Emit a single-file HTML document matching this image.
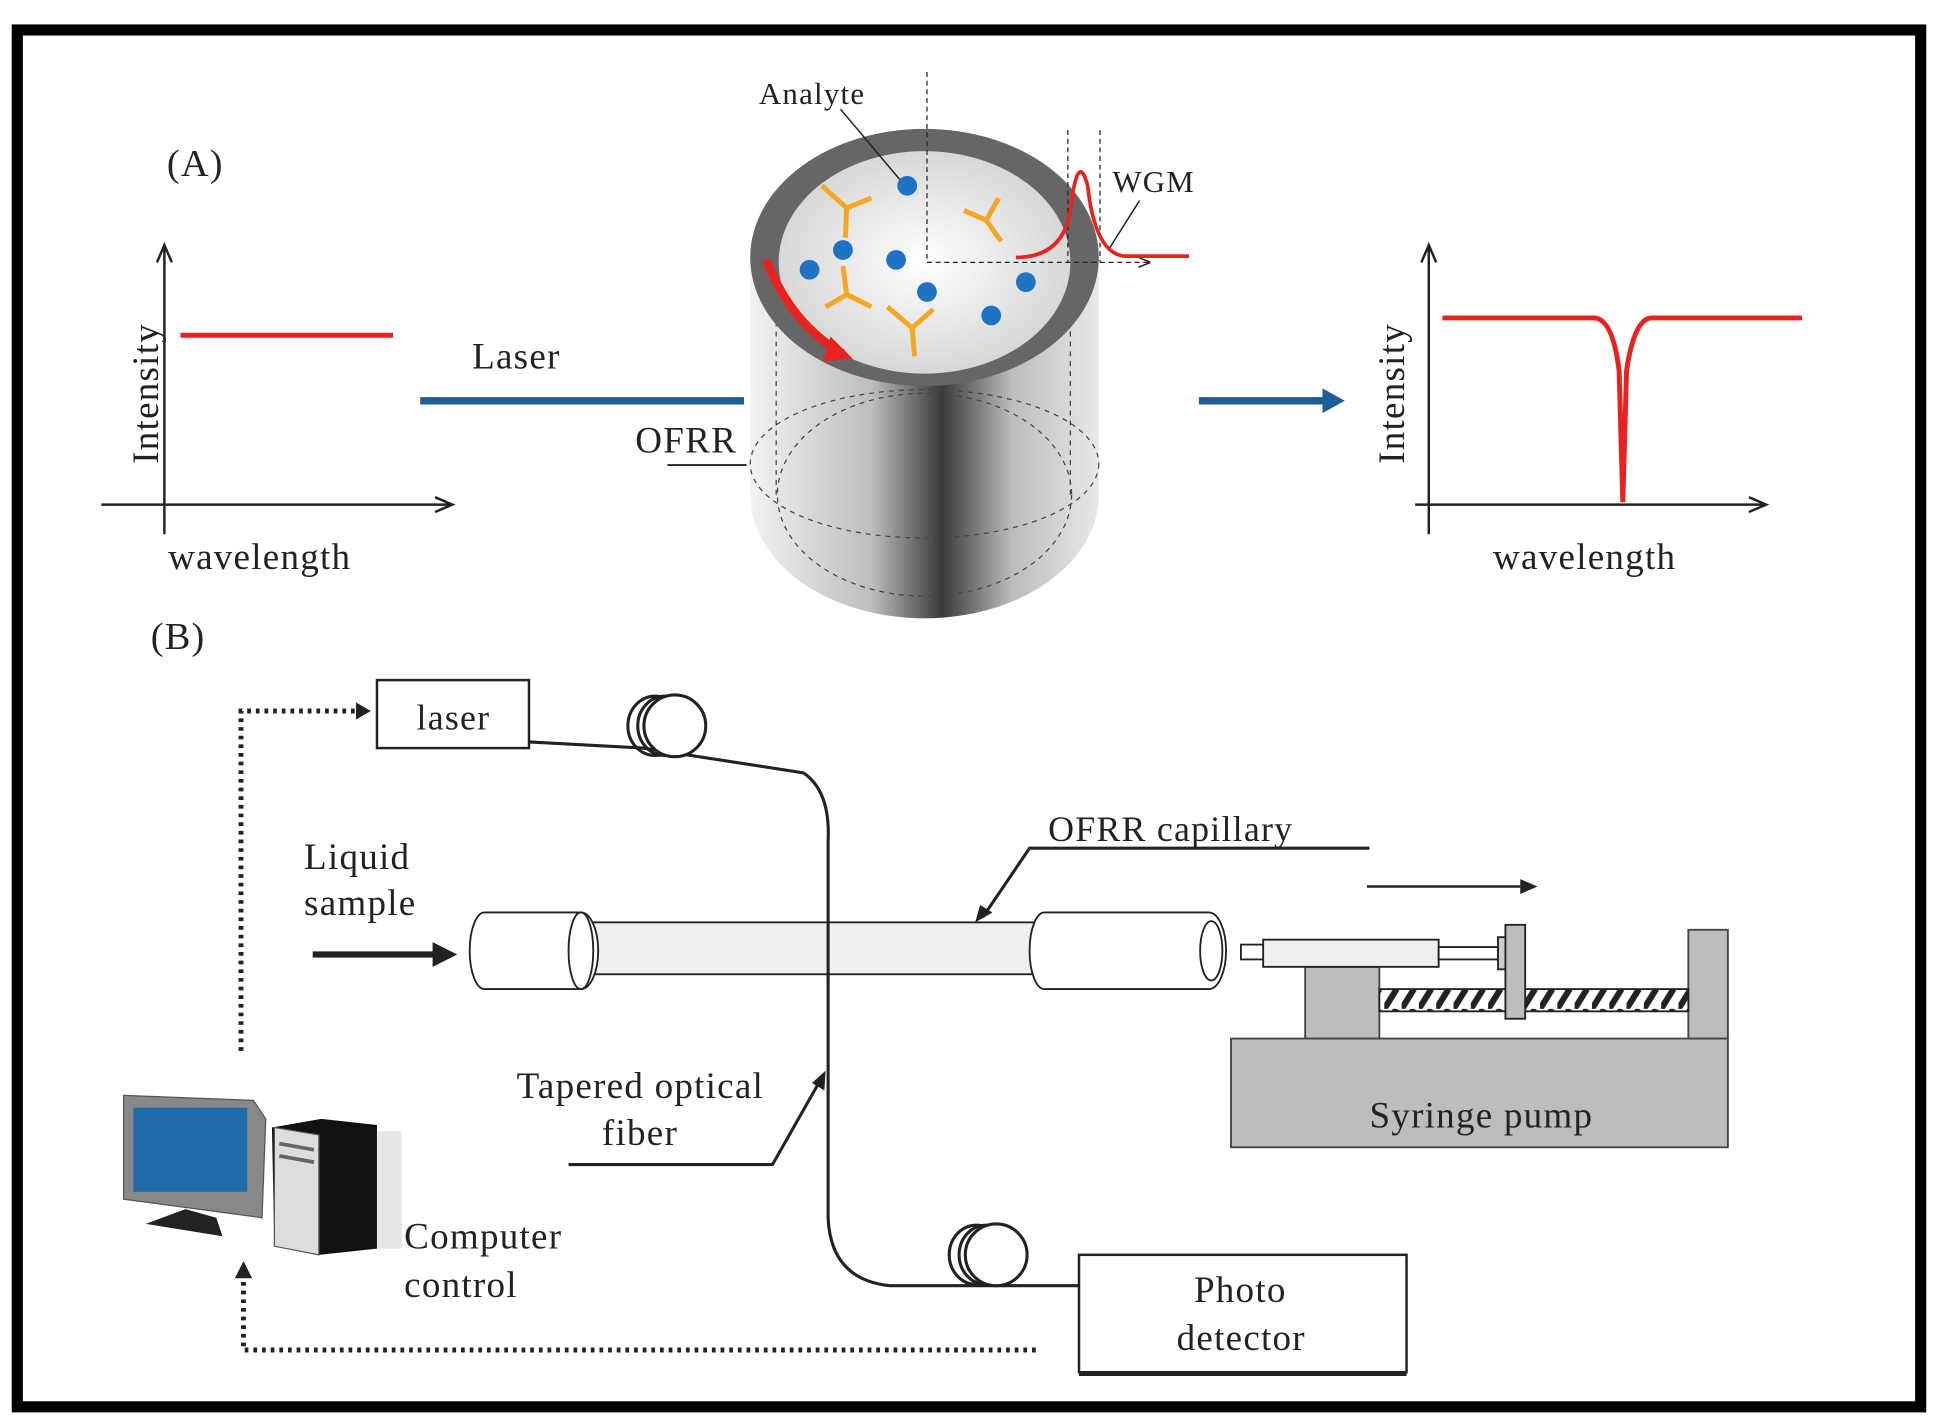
<!DOCTYPE html>
<html><head><meta charset="utf-8"><style>
html,body{margin:0;padding:0;background:#fff;}
svg{display:block;}
text{font-family:"Liberation Serif",serif;fill:#222;letter-spacing:1px;}
</style></head><body>
<svg width="1938" height="1422" viewBox="0 0 1568 1150" xmlns="http://www.w3.org/2000/svg">
<defs>
<linearGradient id="cyl" x1="0" x2="1" y1="0" y2="0">
<stop offset="0" stop-color="#f2f2f2"/><stop offset="0.35" stop-color="#bdbdbd"/><stop offset="0.55" stop-color="#3a3a3a"/><stop offset="0.75" stop-color="#bcbcbc"/><stop offset="1" stop-color="#e8e8e8"/>
</linearGradient>
<radialGradient id="inner" cx="0.5" cy="0.5" r="0.6"><stop offset="0" stop-color="#fff"/><stop offset="1" stop-color="#cfcfcf"/></radialGradient>
<marker id="ah" markerWidth="10" markerHeight="10" refX="9" refY="5" orient="auto"><path d="M0,1 L10,5 L0,9" fill="none" stroke="#222" stroke-width="1.2"/></marker>
<pattern id="hatch" width="14" height="16" patternUnits="userSpaceOnUse"><rect width="14" height="16" fill="#fff"/><path d="M0,16 L10,0" stroke="#222" stroke-width="5"/></pattern>
</defs>
<rect x="0" y="0" width="1568" height="1150" fill="#fff"/>
<rect x="14" y="24" width="1540" height="1114" fill="none" stroke="#000" stroke-width="9"/>

<!-- (A) left graph -->
<text x="135" y="142" font-size="31">(A)</text>
<line x1="133" y1="198" x2="133" y2="432" stroke="#222" stroke-width="2"/>
<path d="M127,212 L133,198 L139,212" fill="none" stroke="#222" stroke-width="2"/>
<line x1="82" y1="408" x2="365" y2="408" stroke="#222" stroke-width="2"/>
<path d="M352,402 L366,408 L352,414" fill="none" stroke="#222" stroke-width="2"/>
<line x1="146" y1="271" x2="318" y2="271" stroke="#e8231f" stroke-width="4"/>
<text x="128" y="375" font-size="30" transform="rotate(-90 128 375)">Intensity</text>
<text x="136" y="460" font-size="30">wavelength</text>

<text x="382" y="298" font-size="30">Laser</text>
<line x1="340" y1="324" x2="602" y2="324" stroke="#1d5e96" stroke-width="6"/>
<text x="514" y="366" font-size="30">OFRR</text>
<line x1="540" y1="376" x2="604" y2="376" stroke="#222" stroke-width="1.5"/>

<!-- cylinder -->
<path d="M607,208 L607,400 A141,100 0 0 0 889,400 L889,208 Z" fill="url(#cyl)"/>
<line x1="628" y1="260" x2="628" y2="400" stroke="#444" stroke-dasharray="4,4"/>
<line x1="866" y1="260" x2="866" y2="400" stroke="#444" stroke-dasharray="4,4"/>
<ellipse cx="748" cy="400" rx="119" ry="82" fill="none" stroke="#444" stroke-dasharray="4,4"/>
<ellipse cx="748" cy="375" rx="141" ry="60" fill="none" stroke="#444" stroke-dasharray="4,4"/>
<ellipse cx="748" cy="208" rx="141" ry="104" fill="#666"/>
<ellipse cx="748" cy="212" rx="118" ry="90" fill="url(#inner)"/>
<path d="M620,210 Q640,262 682,286" fill="none" stroke="#e8231f" stroke-width="7"/>
<path d="M672,272 L690,290 L666,292 Z" fill="#e8231f"/>
<line x1="750" y1="58" x2="750" y2="212" stroke="#222" stroke-dasharray="4,3"/>
<line x1="750" y1="212" x2="930" y2="212" stroke="#222" stroke-dasharray="4,3" marker-end="url(#ah)"/>
<line x1="864" y1="105" x2="864" y2="212" stroke="#222" stroke-dasharray="4,3"/>
<line x1="890" y1="105" x2="890" y2="212" stroke="#222" stroke-dasharray="4,3"/>
<path d="M822,208 Q860,208 866,170 Q872,120 880,150 Q886,205 910,207 L962,207" fill="none" stroke="#e8231f" stroke-width="3"/>
<text x="900" y="155" font-size="25">WGM</text>
<line x1="922" y1="162" x2="898" y2="200" stroke="#222" stroke-width="1.2"/>
<text x="614" y="84" font-size="25">Analyte</text>
<line x1="680" y1="88" x2="728" y2="145" stroke="#222" stroke-width="1.2"/>
<g fill="#1f73c4">
<circle cx="734" cy="150" r="8"/><circle cx="682" cy="202" r="8"/><circle cx="655" cy="218" r="8"/><circle cx="725" cy="210" r="8"/><circle cx="750" cy="236" r="8"/><circle cx="830" cy="228" r="8"/><circle cx="802" cy="255" r="8"/>
</g>
<g stroke="#f5a623" stroke-width="4" fill="none">
<path d="M665,150 L685,168 L705,160 M685,168 L684,192"/>
<path d="M780,170 L798,178 L808,160 M798,178 L810,195"/>
<path d="M668,248 L685,238 L705,248 M685,238 L682,215"/>
<path d="M718,248 L738,265 L755,250 M738,265 L740,288"/>
</g>

<line x1="970" y1="324" x2="1075" y2="324" stroke="#1d5e96" stroke-width="6"/>
<path d="M1070,314 L1088,324 L1070,334 Z" fill="#1d5e96"/>

<!-- right graph -->
<line x1="1156" y1="198" x2="1156" y2="432" stroke="#222" stroke-width="2"/>
<path d="M1150,212 L1156,198 L1162,212" fill="none" stroke="#222" stroke-width="2"/>
<line x1="1145" y1="408" x2="1428" y2="408" stroke="#222" stroke-width="2"/>
<path d="M1415,402 L1429,408 L1415,414" fill="none" stroke="#222" stroke-width="2"/>
<path d="M1167,257 L1290,257 Q1305,258 1310,300 L1313,406 L1316,300 Q1322,258 1336,257 L1458,257" fill="none" stroke="#e8231f" stroke-width="4"/>
<text x="1136" y="375" font-size="30" transform="rotate(-90 1136 375)">Intensity</text>
<text x="1208" y="460" font-size="30">wavelength</text>

<!-- (B) -->
<text x="122" y="525" font-size="31">(B)</text>
<rect x="305" y="550" width="123" height="55" fill="#fff" stroke="#222" stroke-width="2"/>
<text x="337" y="590" font-size="29">laser</text>
<path d="M195,850 L195,575 L292,575" fill="none" stroke="#222" stroke-width="4" stroke-dasharray="3,4"/>
<path d="M288,568 L300,575 L288,582 Z" fill="#222"/>
<path d="M428,600 L520,605 L650,625 Q672,640 670,680 L670,985 Q672,1035 720,1040 L875,1040" fill="none" stroke="#222" stroke-width="2.5"/>
<ellipse cx="530" cy="587" rx="22" ry="24" fill="none" stroke="#222" stroke-width="2.5"/>
<ellipse cx="538" cy="587" rx="22" ry="24" fill="none" stroke="#222" stroke-width="2.5"/>
<ellipse cx="546" cy="587" rx="25" ry="25" fill="#fff" stroke="#222" stroke-width="2.5"/>
<ellipse cx="790" cy="1015" rx="22" ry="24" fill="none" stroke="#222" stroke-width="2.5"/>
<ellipse cx="798" cy="1015" rx="22" ry="24" fill="none" stroke="#222" stroke-width="2.5"/>
<ellipse cx="806" cy="1015" rx="25" ry="25" fill="#fff" stroke="#222" stroke-width="2.5"/>
<rect x="465" y="746" width="380" height="42" fill="#efefef" stroke="#222" stroke-width="1.5"/>
<path d="M392,738 L470,738 A14,31 0 0 1 470,800 L392,800 A12,31 0 0 1 392,738 Z" fill="#fff" stroke="#222" stroke-width="1.5"/>
<ellipse cx="470" cy="769" rx="10" ry="31" fill="none" stroke="#222" stroke-width="1.5"/>
<path d="M845,738 L978,738 A14,31 0 0 1 978,800 L845,800 A12,31 0 0 1 845,738 Z" fill="#fff" stroke="#222" stroke-width="1.5"/>
<ellipse cx="980" cy="769" rx="9" ry="24" fill="none" stroke="#222" stroke-width="1.5"/>
<line x1="670" y1="745" x2="670" y2="790" stroke="#222" stroke-width="2.5"/>
<text x="246" y="703" font-size="30">Liquid</text>
<text x="246" y="740" font-size="30">sample</text>
<line x1="253" y1="772" x2="355" y2="772" stroke="#222" stroke-width="5"/>
<path d="M350,762 L370,772 L350,782 Z" fill="#222"/>
<text x="848" y="680" font-size="29">OFRR capillary</text>
<path d="M1108,686 L833,686 L795,742" fill="none" stroke="#222" stroke-width="2.5"/>
<path d="M789,746 L793,732 L803,738 Z" fill="#222"/>
<rect x="996" y="840" width="402" height="88" fill="#bdbdbd" stroke="#444" stroke-width="1.5"/>
<text x="1108" y="912" font-size="30">Syringe pump</text>
<rect x="1056" y="782" width="60" height="58" fill="#bdbdbd" stroke="#444" stroke-width="1.5"/>
<rect x="1366" y="752" width="32" height="88" fill="#bdbdbd" stroke="#444" stroke-width="1.5"/>
<rect x="1116" y="800" width="250" height="18" fill="url(#hatch)" stroke="#222" stroke-width="1.5"/>
<rect x="1004" y="764" width="20" height="12" fill="#fff" stroke="#222" stroke-width="1.5"/>
<rect x="1022" y="760" width="142" height="22" fill="#eee" stroke="#222" stroke-width="1.5"/>
<rect x="1164" y="766" width="48" height="10" fill="#fff" stroke="#222" stroke-width="1.5"/>
<rect x="1212" y="758" width="8" height="26" fill="#ccc" stroke="#222" stroke-width="1.5"/>
<rect x="1218" y="748" width="16" height="76" fill="#bdbdbd" stroke="#222" stroke-width="1.5"/>
<line x1="1106" y1="717" x2="1230" y2="717" stroke="#222" stroke-width="2"/>
<path d="M1230,711 L1244,717 L1230,723 Z" fill="#222"/>
<text x="418" y="888" font-size="30">Tapered optical</text>
<text x="487" y="926" font-size="30">fiber</text>
<path d="M460,942 L625,942 L663,875" fill="none" stroke="#222" stroke-width="2.5"/>
<path d="M668,866 L667,882 L657,876 Z" fill="#222"/>
<rect x="873" y="1015" width="265" height="95" fill="#fff" stroke="#222" stroke-width="2"/>
<line x1="873" y1="1111" x2="1138" y2="1111" stroke="#222" stroke-width="4"/>
<text x="966" y="1053" font-size="30">Photo</text>
<text x="952" y="1092" font-size="30">detector</text>
<path d="M838,1092 L197,1092 L197,1030" fill="none" stroke="#222" stroke-width="4" stroke-dasharray="3,4"/>
<path d="M190,1034 L197,1020 L204,1034 Z" fill="#222"/>
<path d="M100,886 L205,890 L215,905 L212,985 L100,970 Z" fill="#888" stroke="#555"/>
<rect x="108" y="896" width="92" height="68" fill="#1f6aa8"/>
<path d="M150,978 L175,985 L180,1000 L118,990 Z" fill="#222"/>
<path d="M220,912 L260,905 L305,910 L305,1010 L258,1015 L222,1008 Z" fill="#111"/>
<path d="M222,912 L258,918 L258,1015 L222,1008 Z" fill="#ddd" stroke="#555"/>
<line x1="226" y1="925" x2="254" y2="930" stroke="#666" stroke-width="3"/>
<line x1="226" y1="935" x2="254" y2="940" stroke="#666" stroke-width="3"/>
<rect x="305" y="915" width="20" height="95" fill="#e6e6e6"/>
<text x="327" y="1010" font-size="30">Computer</text>
<text x="327" y="1049" font-size="30">control</text>
</svg>
</body></html>
